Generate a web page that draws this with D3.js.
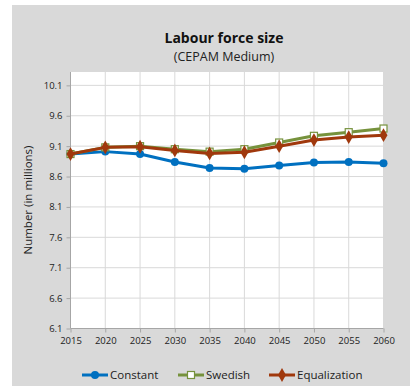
<!DOCTYPE html>
<html><head><meta charset="utf-8">
<script src="https://cdn.jsdelivr.net/npm/d3@7"></script>
<style>body{margin:0;background:#fff}svg{display:block}text{font-family:"Open Sans","Liberation Sans",sans-serif}</style>
</head><body><svg id="c" width="410" height="386"></svg>
<script>
const years = [2015,2020,2025,2030,2035,2040,2045,2050,2055,2060];
const constant = [8.97,9.01,8.97,8.84,8.74,8.73,8.78,8.83,8.84,8.82];
const swedish = [8.97,9.08,9.10,9.05,9.01,9.05,9.16,9.27,9.33,9.39];
const equalization = [8.97,9.08,9.09,9.03,8.98,9.00,9.10,9.20,9.25,9.28];
const yTicks = [6.1,6.6,7.1,7.6,8.1,8.6,9.1,9.6,10.1];
const seriesNames = ["Constant","Swedish","Equalization"];
const colors = ["#0070c0","#76923c","#a0380c"];

const svg = d3.select("#c");
svg.append("rect").attr("x",12).attr("y",5).attr("width",398).attr("height",381).attr("fill","#d9d9d9");
const L=70.5,R=383.5,T=72,B=328.5;
svg.append("rect").attr("x",L).attr("y",T).attr("width",R-L).attr("height",B-T).attr("fill","#fff");
const x = d3.scaleLinear().domain([2015,2060]).range([L,R]);
const y = d3.scaleLinear().domain([6.1,10.32]).range([B,T]);

const g = svg.append("g");
g.selectAll(".hg").data(yTicks.slice(1)).join("line")
 .attr("x1",L).attr("x2",R).attr("y1",d=>y(d)).attr("y2",d=>y(d)).attr("stroke","#d9d9d9").attr("stroke-width",1);
g.selectAll(".vg").data(years.slice(1)).join("line")
 .attr("x1",d=>x(d)).attr("x2",d=>x(d)).attr("y1",T).attr("y2",B).attr("stroke","#d9d9d9").attr("stroke-width",1);

const yAxis = svg.append("g").attr("transform",`translate(${L},0)`)
 .call(d3.axisLeft(y).tickValues(yTicks).tickFormat(d3.format(".1f")).tickSize(4).tickPadding(4));
const xAxis = svg.append("g").attr("transform",`translate(0,${B})`)
 .call(d3.axisBottom(x).tickValues(years).tickFormat(d3.format("d")).tickSize(4).tickPadding(5));
[yAxis,xAxis].forEach(a=>{
 a.select(".domain").attr("stroke","#a6a6a6");
 a.selectAll(".tick line").attr("stroke","#a6a6a6");
 a.selectAll(".tick text").attr("fill","#222").style("font-size","9.5px");
});
yAxis.select(".domain").attr("d",`M0,${T}V${B}`);
xAxis.select(".domain").attr("d",`M${L},0H${R}`);

const data = [constant,swedish,equalization];
const line = d3.line().x((d,i)=>x(years[i])).y(d=>y(d));
function marker(sel,k,cx,cy){
 if(k===0) sel.append("circle").attr("cx",cx).attr("cy",cy).attr("r",4).attr("fill",colors[0]);
 else if(k===1) sel.append("rect").attr("x",cx-3.5).attr("y",cy-3.5).attr("width",7).attr("height",7).attr("fill","#fff").attr("stroke",colors[1]).attr("stroke-width",1.2);
 else sel.append("path").attr("d",d3.symbol(d3.symbolDiamond,55)()).attr("transform",`translate(${cx},${cy})`).attr("fill",colors[2]);
}
data.forEach((vals,k)=>{
 const gs = svg.append("g");
 gs.append("path").datum(vals).attr("d",line).attr("fill","none").attr("stroke",colors[k]).attr("stroke-width",3).attr("stroke-linejoin","round");
 vals.forEach((v,i)=>marker(gs,k,x(years[i]),y(v)));
});

svg.append("text").attr("x",224).attr("y",43).attr("text-anchor","middle").style("font-size","14px").style("font-weight","bold").attr("fill","#111").text("Labour force size");
svg.append("text").attr("x",224).attr("y",61).attr("text-anchor","middle").style("font-size","12.5px").attr("fill","#222").text("(CEPAM Medium)");
svg.append("text").attr("transform","translate(32,200) rotate(-90)").attr("text-anchor","middle").style("font-size","11.5px").attr("fill","#222").text("Number (in millions)");

const lx=[82,178,269];
seriesNames.forEach((n,k)=>{
 const lg = svg.append("g");
 lg.append("line").attr("x1",lx[k]).attr("x2",lx[k]+26).attr("y1",375).attr("y2",375).attr("stroke",colors[k]).attr("stroke-width",3);
 marker(lg,k,lx[k]+13,375);
 lg.append("text").attr("x",lx[k]+28).attr("y",379).style("font-size","11.5px").attr("fill","#222").text(n);
});
</script></body></html>
